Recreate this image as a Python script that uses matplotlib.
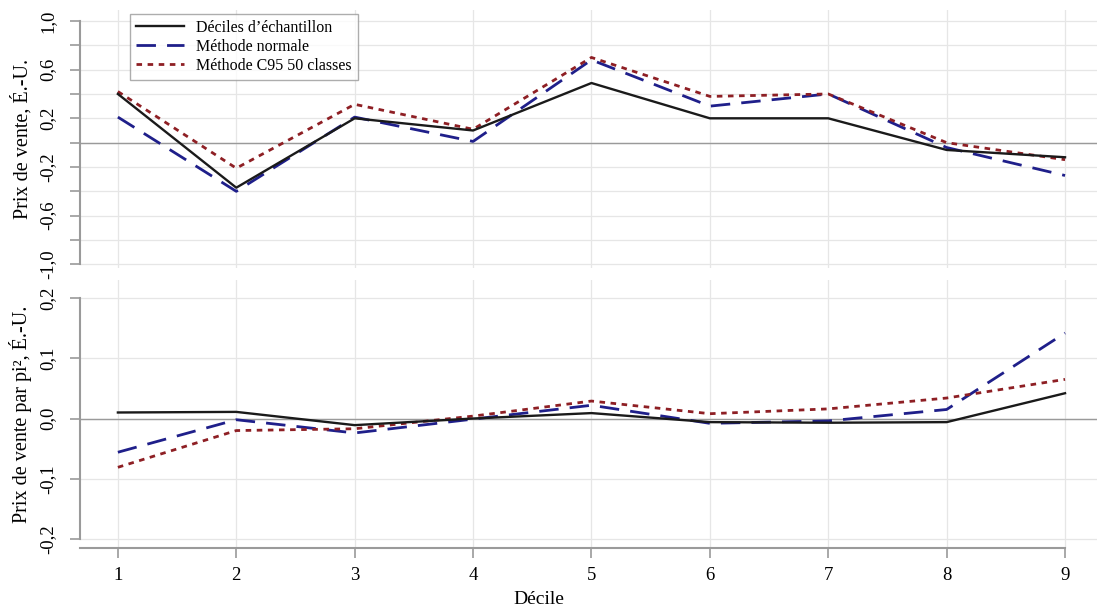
import matplotlib.pyplot as plt
from matplotlib.ticker import FixedLocator, FuncFormatter

deciles = [1, 2, 3, 4, 5, 6, 7, 8, 9]

# Prix de vente, É.-U.
prix_echantillon = [0.40, -0.37, 0.20, 0.10, 0.49, 0.20, 0.20, -0.06, -0.12]
prix_normale = [0.21, -0.40, 0.21, 0.01, 0.68, 0.30, 0.40, -0.04, -0.27]
prix_c95 = [0.42, -0.21, 0.315, 0.11, 0.70, 0.38, 0.40, 0.00, -0.14]

# Prix de vente par pi², É.-U.
pi2_echantillon = [0.010, 0.011, -0.011, 0.000, 0.009, -0.006, -0.007, -0.006, 0.042]
pi2_normale = [-0.056, -0.002, -0.024, -0.001, 0.022, -0.008, -0.004, 0.015, 0.142]
pi2_c95 = [-0.081, -0.020, -0.017, 0.004, 0.029, 0.008, 0.016, 0.034, 0.065]

labels = ["Déciles d\u2019échantillon", "Méthode normale", "Méthode C95 50 classes"]

plt.rcParams['font.family'] = ['Liberation Serif', 'DejaVu Serif']

BLACK = "#1a1a1a"
BLUE = "#1f1f8a"
RED = "#8e1f24"
GRID = "#e6e6e6"
AXIS = "#9a9a9a"

fig = plt.figure(figsize=(10.97, 6.09), dpi=100)
ax1 = fig.add_axes([80 / 1097, 1 - 268 / 609, 1017 / 1097, 258 / 609])
ax2 = fig.add_axes([80 / 1097, 1 - 548 / 609, 1017 / 1097, 268 / 609])

fmt = FuncFormatter(lambda v, p: f"{v:.1f}".replace(".", ",").replace("-0,0", "0,0"))


def draw(ax, a, b, c):
    ax.plot(deciles, a, color=BLACK, lw=1.7, label=labels[0], zorder=4)
    ax.plot(deciles, b, color=BLUE, lw=2.0, dashes=(7, 4), label=labels[1], zorder=3)
    ax.plot(deciles, c, color=RED, lw=2.0, dashes=(2, 2), label=labels[2], zorder=3)
    ax.axhline(0, color=AXIS, lw=1.0, zorder=2)
    ax.set_xlim(0.68, 9.27)
    ax.set_xticks(deciles)
    ax.grid(True, color=GRID, lw=0.9, zorder=0)
    ax.set_axisbelow(True)
    for s in ["top", "right"]:
        ax.spines[s].set_visible(False)
    ax.spines["left"].set_color(AXIS)
    ax.spines["left"].set_linewidth(1.5)
    ax.spines["bottom"].set_color(AXIS)
    ax.spines["bottom"].set_linewidth(1.5)
    ax.tick_params(axis="y", colors=AXIS, length=7, width=1.2, labelcolor="black",
                   labelsize=13.5, labelrotation=90, pad=10)
    ax.tick_params(axis="x", colors=AXIS, length=7, width=1.2, labelcolor="black",
                   labelsize=13.5, pad=7)


draw(ax1, prix_echantillon, prix_normale, prix_c95)
ax1.set_ylim(-1.03, 1.09)
ax1.yaxis.set_major_locator(FixedLocator([1.0, 0.8, 0.6, 0.4, 0.2, 0.0, -0.2, -0.4, -0.6, -0.8, -1.0]))
ax1.yaxis.set_major_formatter(FuncFormatter(
    lambda v, p: fmt(v, p) if round(v, 1) in (1.0, 0.6, 0.2, -0.2, -0.6, -1.0) else ""))
ax1.spines["left"].set_bounds(-1.0, 1.0)
ax1.spines["bottom"].set_visible(False)
ax1.tick_params(axis="x", bottom=False, labelbottom=False)
ax1.set_ylabel("Prix de vente, É.-U.", fontsize=14.5, labelpad=5)
for t in ax1.get_yticklabels():
    t.set_va("center")

draw(ax2, pi2_echantillon, pi2_normale, pi2_c95)
ax2.set_ylim(-0.215, 0.23)
ax2.set_yticks([-0.2, -0.1, 0.0, 0.1, 0.2])
ax2.yaxis.set_major_formatter(fmt)
ax2.spines["left"].set_bounds(-0.2, 0.2)
ax2.spines["bottom"].set_bounds(0.68, 9)
ax2.set_ylabel("Prix de vente par pi\u00b2, É.-U.", fontsize=14.5, labelpad=5)
for t in ax2.get_yticklabels():
    t.set_va("center")

fig.text(539 / 1097, 1 - 599 / 609, "Décile", ha="center", va="center", fontsize=14)

leg = ax1.legend(loc="upper left", bbox_to_anchor=(50 / 1017, 1 - 4 / 258), fontsize=11.5,
                 frameon=True, fancybox=False, handlelength=3.0, borderpad=0.35,
                 labelspacing=0.2, handletextpad=0.8, borderaxespad=0)
leg.get_frame().set_edgecolor("#999999")
leg.get_frame().set_linewidth(1.0)

fig.savefig("out.png", dpi=100)
